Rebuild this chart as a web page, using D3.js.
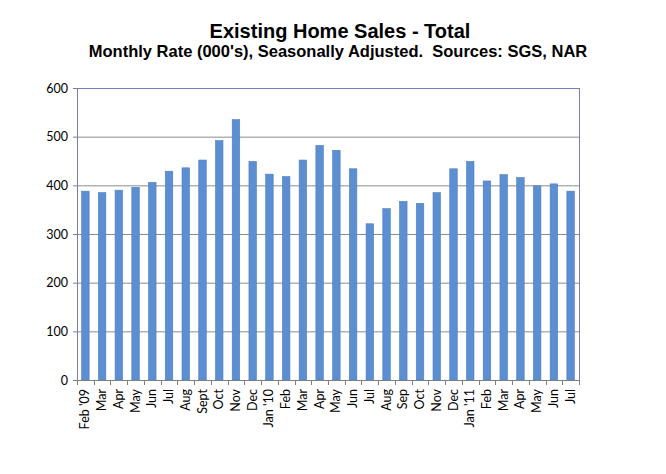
<!DOCTYPE html>
<meta charset="utf-8">
<style>
body { margin: 0; background: #fff; }
.title { font-family: "Liberation Sans", Arial, sans-serif; font-weight: bold; fill: #000; white-space: pre; }
.axis text { font-family: Lato, "Open Sans", sans-serif; font-size: 12.5px; fill: #000; }
.axis path, .axis line { stroke: #808080; }
.grid line { stroke: #8c8c8c; stroke-width: 1px; }
.bar { fill: #5b8fd1; stroke: #4f7fc0; stroke-width: 0.6px; }
</style>
<svg width="666" height="474"></svg>
<script src="https://d3js.org/d3.v7.min.js"></script>
<script>

var months = ["Feb '09", "Mar", "Apr", "May", "Jun", "Jul", "Aug", "Sept", "Oct", "Nov", "Dec",
              "Jan '10", "Feb", "Mar", "Apr", "May", "Jun", "Jul", "Aug", "Sep", "Oct", "Nov", "Dec",
              "Jan '11", "Feb", "Mar", "Apr", "May", "Jun", "Jul"];
var sales = [388, 385, 390, 396, 406, 429, 436, 452, 492, 535, 449,
             423, 418, 452, 482, 472, 434, 321, 352, 367, 363, 385, 434,
             449, 409, 422, 416, 399, 403, 388];
var yTicks = [0, 100, 200, 300, 400, 500, 600];

var svg = d3.select("svg"),
    margin = {top: 88, right: 87, bottom: 94, left: 77},
    width = +svg.attr("width") - margin.left - margin.right,
    height = +svg.attr("height") - margin.top - margin.bottom;

svg.append("text")
    .attr("class", "title")
    .attr("x", 340).attr("y", 38)
    .attr("text-anchor", "middle")
    .style("font-size", "20px")
    .text("Existing Home Sales - Total");

svg.append("text")
    .attr("class", "title")
    .attr("x", 338).attr("y", 57)
    .attr("text-anchor", "middle")
    .style("font-size", "16.5px")
    .text("Monthly Rate (000's), Seasonally Adjusted.  Sources: SGS, NAR");

var idx = d3.range(months.length);

var x = d3.scaleBand().domain(idx).range([0, width]).paddingInner(0.55).paddingOuter(0.275),
    xc = d3.scaleBand().domain(idx).range([0, width]),
    y = d3.scaleLinear().domain([0, 600]).range([height, 0]);

var g = svg.append("g")
    .attr("transform", "translate(" + margin.left + "," + margin.top + ")");

// gridlines
g.append("g")
    .attr("class", "grid")
  .selectAll("line")
  .data(yTicks.slice(1))
  .enter().append("line")
    .attr("x1", 0).attr("x2", width)
    .attr("y1", function(d) { return y(d) + 0.5; })
    .attr("y2", function(d) { return y(d) + 0.5; });

// bars
g.selectAll(".bar")
  .data(sales)
  .enter().append("rect")
    .attr("class", "bar")
    .attr("x", function(d, i) { return x(i); })
    .attr("y", function(d) { return y(d); })
    .attr("width", x.bandwidth())
    .attr("height", function(d) { return height - y(d); });

// plot frame
g.append("rect")
    .attr("x", 0.5).attr("y", 0.5)
    .attr("width", width).attr("height", height)
    .attr("fill", "none")
    .attr("stroke", "#7b7bbd")
    .attr("stroke-width", 1);

// y axis
var yAxis = g.append("g")
    .attr("class", "axis")
    .call(d3.axisLeft(y).tickValues(yTicks).tickSize(4).tickPadding(5));
yAxis.select(".domain").remove();

// x axis: tick marks at category boundaries, labels at centres
var xAxis = g.append("g")
    .attr("class", "axis")
    .attr("transform", "translate(0," + height + ")");

xAxis.append("line")
    .attr("x1", 0).attr("x2", width)
    .attr("y1", 0.5).attr("y2", 0.5)
    .attr("stroke", "#808080");

xAxis.selectAll(".tk")
  .data(d3.range(months.length + 1))
  .enter().append("line")
    .attr("class", "tk")
    .attr("x1", function(d) { return Math.round(d * xc.step()) + 0.5; })
    .attr("x2", function(d) { return Math.round(d * xc.step()) + 0.5; })
    .attr("y1", 0).attr("y2", 5);

xAxis.selectAll(".lbl")
  .data(months)
  .enter().append("text")
    .attr("class", "lbl")
    .attr("transform", function(d, i) {
      return "translate(" + (xc(i) + xc.bandwidth() / 2 + 4) + ",9) rotate(-90)";
    })
    .attr("text-anchor", "end")
    .text(function(d) { return d; });

</script>
